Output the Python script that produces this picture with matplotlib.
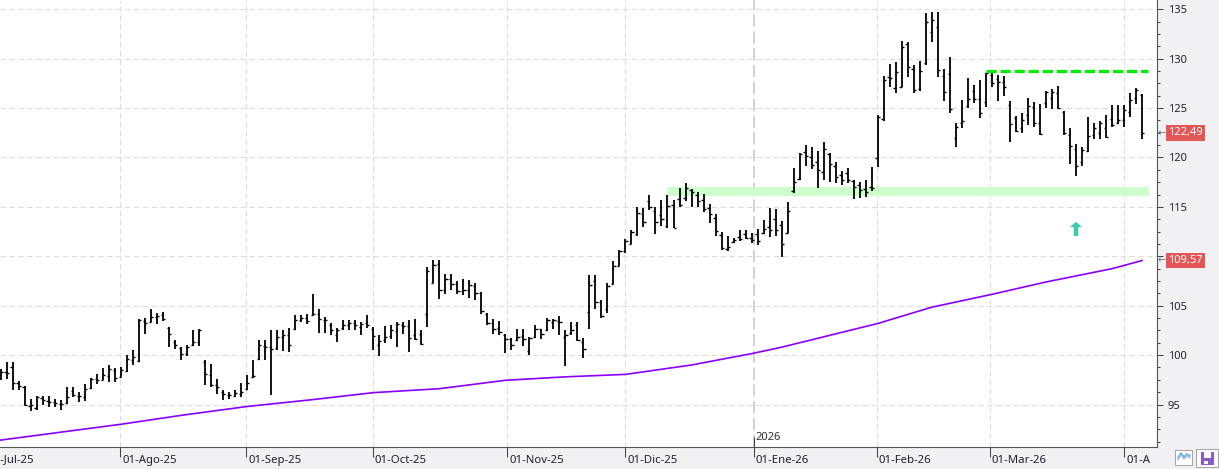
import numpy as np
import matplotlib.pyplot as plt
from matplotlib.patches import Rectangle, FancyArrow
from matplotlib.lines import Line2D
from matplotlib.ticker import MultipleLocator
from matplotlib.transforms import blended_transform_factory, Bbox, TransformedBbox

plt.rcParams['font.family'] = ['Noto Sans', 'DejaVu Sans']

# daily OHLC bars, Jul-2025 .. Apr-2026
open_ = [98.0, 98.3, 98.8, 97.2, 96.8, 94.9, 94.6, 95.7, 95.4, 95.3,
         95.1, 95.2, 96.4, 95.9, 95.8, 96.7, 97.6, 97.5, 97.9, 98.5,
         97.8, 98.4, 99.5, 99.4, 103.5, 103.4, 103.9, 104.1, 102.7, 101.3,
         100.7, 100.1, 101.0, 101.3, 99.3, 98.0, 97.0, 96.3, 96.0, 95.9,
         96.1, 96.6, 97.8, 99.6, 100.9, 100.8, 100.7, 101.8, 102.0, 102.6,
         103.6, 103.8, 104.1, 104.2, 103.6, 103.0, 102.0, 102.7, 103.0, 103.2,
         102.8, 103.2, 102.6, 101.0, 101.5, 101.9, 102.4, 103.08, 102.9, 102.0,
         102.17, 104.13, 107.33, 109.2, 106.6, 107.7, 107.2, 106.5, 106.6, 107.0,
         106.29, 104.2, 103.3, 102.7, 102.0, 101.6, 101.5, 101.9, 100.4, 101.8,
         102.6, 102.51, 103.4, 103.5, 101.8, 102.2, 103.02, 101.3, 104.37, 107.5,
         105.38, 104.64, 107.2, 109.03, 110.5, 111.23, 112.3, 114.3, 115.6, 114.6,
         114.2, 113.1, 115.2, 115.8, 115.9, 116.7, 116.2, 115.7, 114.9, 113.9,
         112.2, 110.7, 111.4, 112.0, 112.3, 111.9, 112.3, 112.4, 113.0, 113.8,
         113.15, 112.4, 116.6, 117.87, 120.6, 120.07, 119.5, 118.5, 120.4, 119.12,
         118.2, 118.4, 117.6, 117.2, 116.8, 117.0, 119.92, 123.9, 128.18, 127.0,
         127.17, 131.5, 129.0, 126.9, 129.53, 132.7, 133.25, 128.25, 128.45, 122.0,
         123.5, 125.2, 126.77, 125.89, 125.65, 128.3, 127.91, 127.6, 125.32, 123.97,
         123.0, 124.3, 125.15, 123.5, 125.49, 126.0, 126.57, 124.64, 122.3, 120.83,
         119.5, 120.66, 122.3, 122.5, 123.02, 123.9, 123.46, 123.8, 124.6, 125.99,
         126.33]
high = [98.63, 99.30, 99.30, 97.35, 96.84, 95.59, 95.86, 95.86, 95.86, 95.59,
        95.43, 96.77, 96.77, 96.27, 97.11, 97.72, 98.12, 98.73, 98.97, 98.73,
        98.80, 99.98, 100.49, 103.69, 103.79, 104.70, 104.26, 104.33, 102.85, 101.50,
        100.82, 100.99, 102.51, 102.68, 99.47, 99.14, 97.62, 96.44, 96.27, 96.50,
        97.18, 97.96, 99.47, 101.50, 101.50, 102.51, 102.51, 102.58, 102.78, 104.03,
        104.03, 104.20, 106.22, 104.70, 103.86, 103.25, 102.75, 103.52, 103.52, 103.52,
        103.35, 104.03, 102.85, 102.00, 102.91, 103.02, 103.35, 103.35, 103.52, 103.69,
        102.51, 108.92, 109.60, 109.60, 108.25, 108.25, 107.50, 107.74, 107.64, 107.30,
        106.39, 104.26, 103.69, 103.45, 102.17, 101.77, 102.68, 102.68, 101.84, 103.02,
        102.68, 103.79, 103.62, 103.93, 102.51, 103.35, 103.35, 101.77, 108.08, 108.14,
        105.55, 107.30, 109.54, 110.65, 111.73, 112.64, 114.94, 114.87, 116.22, 115.01,
        115.68, 116.22, 115.68, 116.90, 117.40, 116.79, 116.46, 116.29, 115.28, 114.26,
        112.41, 112.07, 111.84, 112.68, 112.64, 112.31, 112.81, 113.72, 114.84, 114.74,
        113.59, 115.51, 118.89, 120.47, 121.25, 121.08, 120.67, 121.59, 120.47, 119.56,
        118.65, 118.89, 117.73, 117.56, 117.73, 119.0, 124.30, 128.25, 129.47, 129.70,
        131.83, 131.73, 129.37, 129.77, 134.60, 134.76, 134.76, 128.93, 130.21, 123.46,
        125.82, 128.02, 127.34, 127.85, 128.59, 128.59, 128.35, 128.25, 125.72, 124.20,
        124.54, 126.06, 125.65, 125.42, 126.77, 126.90, 127.24, 124.71, 122.96, 121.34,
        121.10, 124.14, 123.46, 123.73, 124.30, 125.32, 125.32, 125.32, 126.50, 127.00,
        126.40]
low = [97.45, 97.62, 96.50, 96.44, 94.82, 94.31, 94.41, 94.92, 94.75, 94.75,
       94.48, 95.09, 95.76, 95.26, 95.36, 96.61, 97.11, 97.45, 97.28, 97.28,
       97.79, 98.29, 98.97, 99.30, 102.17, 103.35, 103.18, 103.42, 100.82, 100.65,
       99.54, 99.88, 100.89, 100.89, 96.94, 96.77, 96.10, 95.49, 95.59, 95.76,
       95.76, 96.50, 97.69, 99.54, 99.54, 95.93, 100.49, 100.42, 100.32, 102.51,
       103.35, 103.12, 104.03, 102.24, 102.24, 102.00, 101.33, 102.51, 102.51, 102.51,
       102.00, 102.78, 100.49, 99.88, 101.23, 101.67, 100.82, 102.11, 100.32, 101.57,
       101.06, 102.85, 107.30, 105.72, 106.22, 106.56, 106.22, 106.05, 105.82, 105.55,
       104.20, 103.08, 102.17, 102.07, 100.22, 100.49, 101.40, 100.89, 100.05, 101.73,
       101.60, 102.44, 102.61, 102.07, 98.90, 102.07, 101.40, 99.74, 102.68, 104.70,
       103.76, 104.30, 107.18, 109.03, 110.38, 111.23, 112.07, 112.98, 114.67, 112.24,
       113.08, 112.91, 112.85, 115.01, 115.61, 114.94, 115.01, 114.53, 113.42, 112.07,
       110.62, 110.49, 111.30, 111.57, 111.80, 111.36, 111.13, 112.24, 111.97, 112.04,
       109.88, 112.31, 116.42, 117.77, 119.12, 118.79, 116.96, 117.71, 117.54, 117.44,
       117.20, 117.37, 115.77, 115.87, 116.04, 116.65, 119.08, 123.73, 127.11, 126.57,
       127.11, 128.12, 126.50, 126.73, 129.37, 131.73, 128.18, 125.76, 124.47, 121.10,
       122.96, 124.98, 125.49, 123.97, 125.15, 127.11, 125.76, 126.26, 121.61, 122.55,
       122.52, 123.29, 123.06, 122.28, 124.98, 124.88, 124.88, 122.28, 119.35, 118.16,
       119.14, 120.59, 121.84, 121.84, 121.94, 123.06, 123.39, 123.12, 124.14, 125.38,
       121.84]
close = [98.29, 98.19, 97.18, 96.84, 94.92, 94.99, 95.76, 95.43, 95.26, 95.16,
         95.09, 95.76, 95.93, 95.86, 96.61, 97.62, 97.45, 97.96, 98.63, 97.72,
         98.46, 99.64, 99.81, 103.52, 103.25, 103.86, 103.93, 103.69, 102.17, 100.99,
         100.15, 100.82, 101.33, 102.51, 98.06, 96.94, 96.77, 96.10, 95.93, 96.17,
         96.27, 97.18, 97.85, 100.99, 100.82, 100.65, 101.84, 102.00, 100.99, 103.52,
         103.76, 103.42, 104.20, 103.69, 103.52, 102.51, 102.58, 103.02, 103.25, 103.02,
         103.12, 103.02, 101.90, 101.43, 101.84, 102.51, 103.18, 102.91, 101.77, 101.60,
         101.16, 108.5, 109.16, 106.56, 107.74, 107.17, 106.49, 106.56, 107.06, 106.29,
         104.5, 103.25, 102.68, 102.34, 101.67, 100.99, 101.84, 101.60, 101.73, 102.68,
         102.17, 103.52, 103.52, 103.35, 102.07, 102.58, 101.50, 100.65, 107.13, 105.38,
         103.93, 106.96, 109.03, 110.55, 111.5, 112.41, 114.37, 113.49, 115.04, 113.49,
         113.76, 115.11, 112.91, 115.21, 116.90, 116.46, 115.61, 114.77, 114.33, 112.58,
         110.82, 110.99, 111.63, 111.73, 111.90, 111.70, 111.57, 112.81, 112.71, 112.71,
         111.23, 114.57, 117.54, 120.40, 120.13, 119.22, 118.72, 120.91, 119.39, 118.04,
         117.77, 117.77, 117.05, 116.71, 116.55, 116.88, 124.14, 127.85, 128.02, 128.69,
         131.22, 129.13, 126.84, 128.76, 133.75, 133.9, 128.86, 126.67, 124.91, 123.12,
         123.73, 125.92, 125.92, 124.47, 128.52, 127.51, 127.68, 127.17, 123.39, 122.72,
         123.80, 125.22, 123.46, 122.35, 126.67, 126.67, 124.98, 122.52, 121.20, 119.18,
         120.76, 122.18, 123.02, 123.46, 122.11, 123.29, 123.80, 124.81, 125.82, 126.84,
         122.49]

# moving average, read at a few bars
ma_idx = [0, 10, 20, 30, 41, 52, 62, 73, 84, 94, 104, 115, 125, 130, 140, 146, 155, 165, 174, 185, 190]
ma_val = [91.4, 92.2, 93.0, 93.9, 94.8, 95.5, 96.2, 96.6, 97.45, 97.8, 98.05, 99.0,
          100.15, 100.8, 102.3, 103.2, 104.85, 106.15, 107.4, 108.75, 109.57]

# month starts (bar units) and their labels
month_pos = [-2.45, 19.91, 40.89, 61.98, 84.33, 103.98, 125.4, 145.8, 164.7, 187.05]
month_lab = ['01-Jul-25', '01-Ago-25', '01-Sep-25', '01-Oct-25', '01-Nov-25',
             '01-Dic-25', '01-Ene-26', '01-Feb-26', '01-Mar-26', '01-Abr-26']
year_pos = 125.4
year_lab = '2026'

price_ticks = [95, 100, 105, 110, 115, 120, 125, 130, 135]
price_labels = ['95', '100', '105', '', '115', '120', '125', '130', '135']

resist_level = 128.75
resist_from, resist_to = 164.0, 191.0
support_lo, support_hi = 116.15, 117.0
support_from, support_to = 110.9, 191.2
arrow_at, arrow_base = 179.0, 112.05

W, H = 1219, 469
fig = plt.figure(figsize=(W / 100, H / 100), dpi=100, facecolor='#f1f1f3')
ax = fig.add_axes([0, 21.7 / H, 1156.7 / W, 447.3 / H])
ax.set_facecolor('white')

idx = np.arange(len(close))

# grid
for y in price_ticks:
    ax.axhline(y, color='#dddddd', lw=0.8, dashes=(5, 3), zorder=0)
for p in month_pos:
    if p == year_pos:
        ax.axvline(p, color='#c6c6c6', lw=1.1, dashes=(8, 3), zorder=0)
    else:
        ax.axvline(p, color='#dddddd', lw=0.8, dashes=(5, 3), zorder=0)

# support band and resistance line
ax.fill_between([support_from, support_to], support_lo, support_hi, color='#ccffcc', lw=0, zorder=1)
ax.plot([resist_from, resist_to], [resist_level, resist_level], color='#00ee00', lw=2.3,
        dashes=(3.2, 1.2), zorder=5)

# OHLC bars
ax.vlines(idx, low, high, color='black', lw=1.3, zorder=3)
ax.hlines(open_, idx - 0.38, idx, color='black', lw=1.0, zorder=3)
ax.hlines(close, idx, idx + 0.38, color='black', lw=1.0, zorder=3)

ax.plot(ma_idx, ma_val, color='#8a00ff', lw=1.2, zorder=2)

ax.add_patch(FancyArrow(arrow_at, arrow_base, 0, 0.9, width=0.75, head_width=2.0,
                        head_length=0.55, color='#3cc9b4', lw=0, zorder=4))

# axes look
for s in ['left', 'top']:
    ax.spines[s].set_visible(False)
for s in ['right', 'bottom']:
    ax.spines[s].set_color('#555555')
    ax.spines[s].set_linewidth(0.8)

ax.yaxis.tick_right()
ax.set_yticks(price_ticks)
ax.set_yticklabels(price_labels)
ax.yaxis.set_minor_locator(MultipleLocator(1.25))
ax.tick_params(axis='y', which='major', length=4.3, width=0.75, color='#444444',
               labelcolor='#202030', labelsize=8, pad=3.6)
ax.tick_params(axis='y', which='minor', length=2.4, width=0.75, color='#444444')
ax.set_xticks(month_pos)
ax.set_xticklabels([])
ax.tick_params(axis='x', length=7.2, width=0.75, color='#444444')

# limits last: set_xticks would widen them
ax.set_xlim(-0.12, 192.44)
ax.set_ylim(90.67, 135.94)

xtr = blended_transform_factory(ax.transData, ax.transAxes)
clip = TransformedBbox(Bbox([[0, 0], [1151 / W, 1]]), fig.transFigure)
for p, lab in zip(month_pos, month_lab):
    t = fig.text(p + 0.3, -0.0284, lab, transform=xtr, ha='left', va='center',
                 fontsize=8.2, color='#202030')
    t.set_clip_box(clip)
    t.set_clip_on(True)

ax.vlines(year_pos, 90.67, 91.7, color='#444444', lw=0.75, clip_on=False, zorder=6)
ax.text(year_pos + 0.3, 91.68, year_lab, fontsize=8, color='#303030', ha='left', va='center')

# last value tags
ytr = blended_transform_factory(ax.transAxes, ax.transData)
for v in [close[-1], ma_val[-1]]:
    ax.text(1168 / 1156.7, v, ('%.2f' % v).replace('.', ','), transform=ytr, ha='left',
            va='center', color='white', fontsize=8, clip_on=False, zorder=10,
            bbox=dict(boxstyle='square,pad=0.2', fc='#e25656', ec='none'))
    ax.text(1157.5 / 1156.7, v, '\u2190', transform=ytr, ha='left', va='center',
            color='#707070', fontsize=7, family='DejaVu Sans', clip_on=False)


# small buttons, bottom right
def px(x, y):
    return x / W, 1 - y / H


fig.add_artist(Rectangle(px(1175, 465), 17 / W, 15 / H, transform=fig.transFigure,
                         fc='white', ec='#a8a8a8', lw=0.8))
zx = [1178, 1181, 1184, 1187, 1190]
fig.add_artist(Line2D([px(x, 0)[0] for x in zx], [px(0, y)[1] for y in [458, 453, 457, 454, 456]],
                      transform=fig.transFigure, color='#6fa8dc', lw=1.2))
fig.add_artist(Line2D([px(x, 0)[0] for x in zx], [px(0, y)[1] for y in [460, 455, 459, 456, 458]],
                      transform=fig.transFigure, color='#9fc5e8', lw=1.0))
fig.add_artist(Rectangle(px(1196, 467), 22 / W, 18 / H, transform=fig.transFigure,
                         fc='white', ec='#a8a8a8', lw=0.8))
fig.add_artist(Rectangle(px(1201, 465), 12.5 / W, 13.5 / H, transform=fig.transFigure,
                         fc='#8a5cc8', ec='none'))
fig.add_artist(Rectangle(px(1203.5, 458), 7.5 / W, 6 / H, transform=fig.transFigure,
                         fc='white', ec='none'))
fig.add_artist(Rectangle(px(1204, 464), 4 / W, 3 / H, transform=fig.transFigure,
                         fc='white', ec='none'))

fig.savefig('out.png', dpi=100, facecolor=fig.get_facecolor())
